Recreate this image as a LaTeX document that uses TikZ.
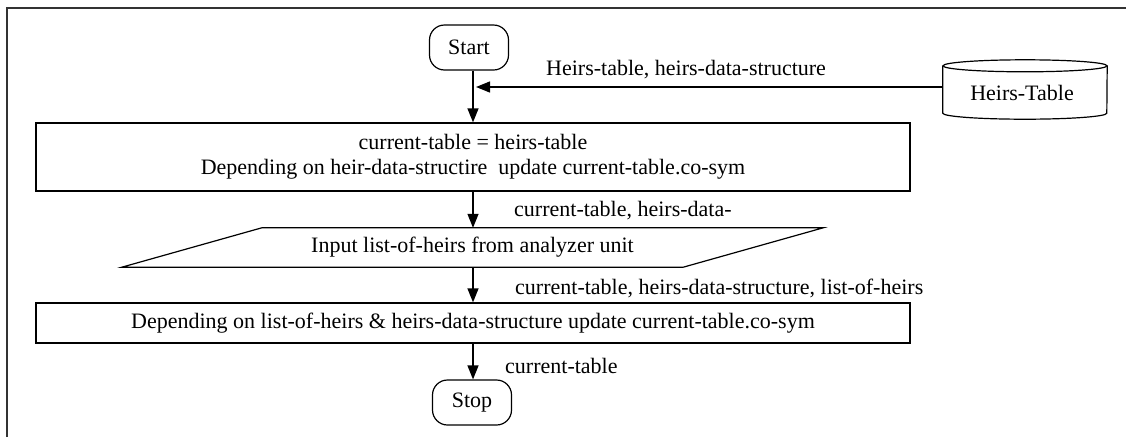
\documentclass[tikz,border=0pt]{standalone}
\usepackage{fontspec}
\setmainfont{Liberation Serif}
\usetikzlibrary{arrows.meta}
\begin{document}
\begin{tikzpicture}[x=1pt,y=1pt,
  every node/.style={font=\fontsize{22}{25}\selectfont},
  box/.style={draw, line width=1.3pt, minimum width=874pt, inner sep=0pt, align=center},
  term/.style={draw, line width=1.2pt, rounded corners=15pt, minimum width=79pt, minimum height=45pt, inner sep=0pt},
  arr/.style={line width=1.3pt, -{Triangle[length=14pt,width=11pt]}},
  lbl/.style={anchor=west, inner sep=0pt},
  shp/.style={line width=1.2pt}]
\useasboundingbox (0,0) rectangle (1126,-437);
\draw[line width=2pt, black!80] (7,-437) -- (7,-8) -- (1126,-8);

\node[term] (start) at (469,-47.5) {Start};
\node[box, minimum height=68pt] (box1) at (473,-157) {current-table = heirs-table\\Depending on heir-data-structire\ \ update current-table.co-sym};
\node[inner sep=0pt, minimum width=561pt, minimum height=39pt] (inp) at (472.5,-247.5) {Input list-of-heirs from analyzer unit};
\draw[shp] ([xshift=70pt]inp.north west) -- ([xshift=70pt]inp.north east) -- ([xshift=-70pt]inp.south east) -- ([xshift=-70pt]inp.south west) -- cycle;
\node[box, minimum height=40pt] (box2) at (473,-323) {Depending on list-of-heirs \& heirs-data-structure update current-table.co-sym};
\node[term] (stop) at (472,-402.5) {Stop};

\node[inner sep=0pt, minimum width=164pt, minimum height=59pt] (cyl) at (1025,-89.5) {};
\draw[shp] ([yshift=-6pt]cyl.north) ellipse (82pt and 6pt);
\draw[shp] ([yshift=-6pt]cyl.north west) -- ([yshift=6pt]cyl.south west) arc (180:360:82pt and 6pt) -- ([yshift=-6pt]cyl.north east);
\node[inner sep=0pt] (cyltext) at (1022,-93) {Heirs-Table};

\coordinate (hit) at (476,-87);
\draw[arr] (cyl.west |- hit) -- (hit);
\draw[arr] (start.south -| box1.north) -- (box1.north);
\draw[arr] (box1.south) -- (box1.south |- inp.north);
\draw[arr] (inp.south -| box1.south) -- (box2.north);
\draw[arr] (box2.south) -- (box2.south |- stop.north);

\node[lbl] (l1) at (546,-70) {Heirs-table, heirs-data-structure};
\node[lbl] (l2) at (514,-211) {current-table, heirs-data-};
\node[lbl] (l3) at (515,-288) {current-table, heirs-data-structure, list-of-heirs};
\node[lbl] (l4) at (505,-366) {current-table};
\end{tikzpicture}
\end{document}
